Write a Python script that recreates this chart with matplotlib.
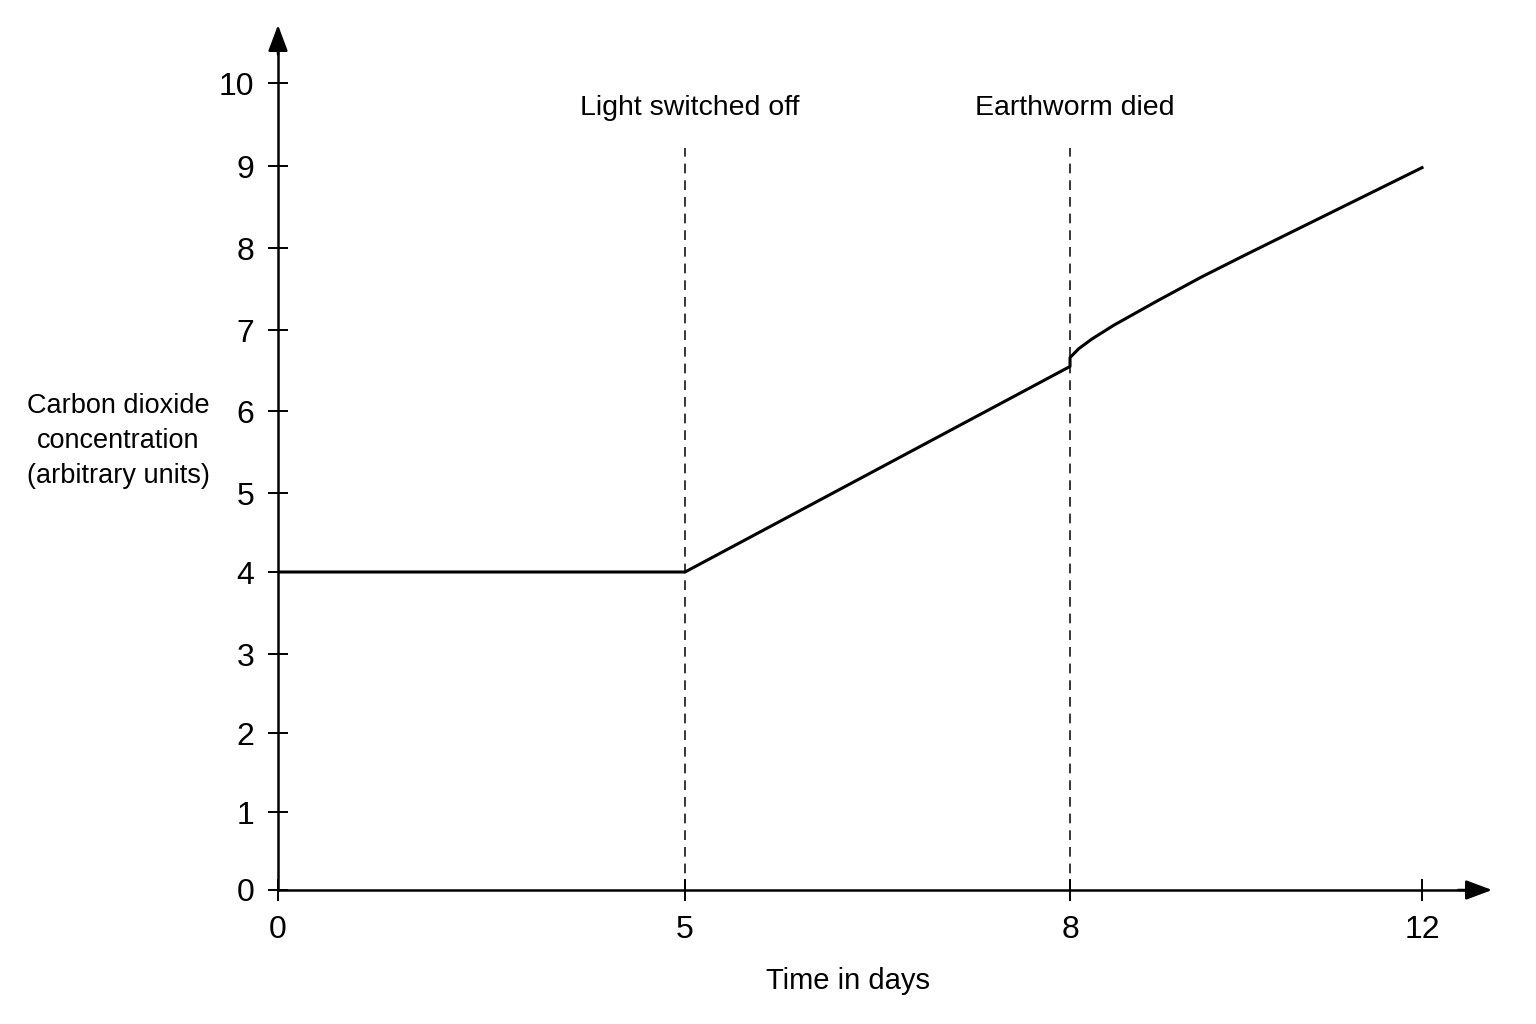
import numpy as np
import matplotlib
matplotlib.use("Agg")
import matplotlib.pyplot as plt

plt.rcParams["font.family"] = ["Liberation Sans", "DejaVu Sans"]
plt.rcParams["lines.scale_dashes"] = False

# readings taken off the curve
days = [0, 5, 8, 8, 8.1, 8.25, 8.5, 8.75, 9.0, 9.5, 10.0, 11.0, 12.0]
co2 = [4.0, 4.0, 6.55, 6.66, 6.77, 6.89, 7.06, 7.21, 7.36, 7.65, 7.92, 8.45, 8.98]

x_ticks = [0, 5, 8, 12]
y_ticks = list(range(0, 11))

events = [5, 8]
event_labels = ["Light switched off", "Earthworm died"]

# the hand-drawn axes are not evenly spaced
axis_days = [-10, 0, 5, 8, 12, 30]
axis_days_units = [-814, 0, 407, 792, 1144, 2728]
axis_co2 = [-10, 0, 1, 2, 3, 4, 5, 6, 7, 8, 9, 10, 20]
axis_co2_units = [-780, 0, 78, 157, 236, 318, 397, 479, 560, 642, 724, 807, 1637]


def x_forward(x):
    return np.interp(x, axis_days, axis_days_units)


def x_inverse(u):
    return np.interp(u, axis_days_units, axis_days)


def y_forward(y):
    return np.interp(y, axis_co2, axis_co2_units)


def y_inverse(u):
    return np.interp(u, axis_co2_units, axis_co2)


fig = plt.figure(figsize=(15.36, 10.24), dpi=100)
ax = fig.add_axes([0.18099, 0.13086, 0.77604, 0.82422])
ax.set_xscale("function", functions=(x_forward, x_inverse))
ax.set_yscale("function", functions=(y_forward, y_inverse))

ax.plot(days, co2, color="black", lw=2.2, solid_joinstyle="round", zorder=3)

for d, label in zip(events, event_labels):
    ax.plot([d, d], [0, 9.22], color="black", lw=1.1, dashes=(7, 5), zorder=2)
    ax.annotate(label, (d, 9.70), xytext=(3.5, 0), textcoords="offset points",
                ha="center", va="center", fontsize=20.5)

ax.set_xlim(0, 12.545)
ax.set_ylim(0, 10.446)
ax.set_xticks(x_ticks)
ax.set_yticks(y_ticks)
ax.xaxis.set_major_formatter(matplotlib.ticker.FormatStrFormatter("%d"))
ax.yaxis.set_major_formatter(matplotlib.ticker.FormatStrFormatter("%d"))
ax.xaxis.set_minor_locator(matplotlib.ticker.NullLocator())
ax.yaxis.set_minor_locator(matplotlib.ticker.NullLocator())

for side in ["top", "right"]:
    ax.spines[side].set_visible(False)
for side in ["left", "bottom"]:
    ax.spines[side].set_linewidth(1.8)

ax.tick_params(axis="y", direction="inout", length=14.4, width=1.4,
               labelsize=23, pad=10)
ax.tick_params(axis="x", direction="inout", length=16, width=1.4,
               labelsize=23, pad=10)

arrow = dict(arrowstyle="-|>,head_length=0.8,head_width=0.3",
             color="black", lw=1.8, shrinkA=0, shrinkB=0, mutation_scale=20)
ax.annotate("", xy=(1.0185, 0), xytext=(0.99, 0), xycoords="axes fraction",
            arrowprops=arrow, annotation_clip=False)
ax.annotate("", xy=(0, 1.0249), xytext=(0, 0.99), xycoords="axes fraction",
            arrowprops=arrow, annotation_clip=False)

ax.set_xlabel("Time in days", fontsize=21)
ax.xaxis.set_label_coords(0.478, -0.091)
ax.set_ylabel("Carbon dioxide\nconcentration\n(arbitrary units)", fontsize=19.5,
              rotation=0, ha="center", va="center", linespacing=1.47)
ax.yaxis.set_label_coords(-0.134, 0.532)

fig.savefig("out.png", dpi=100)
